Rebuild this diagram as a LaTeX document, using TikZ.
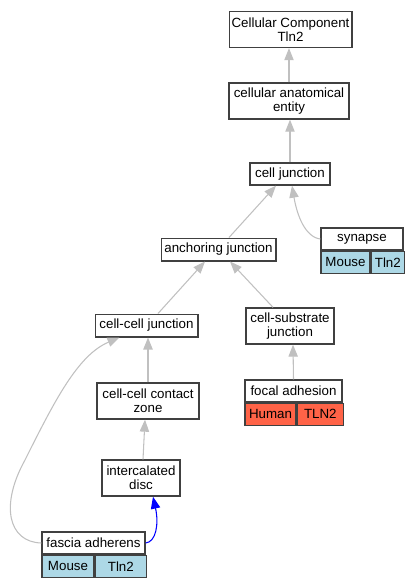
\documentclass[tikz,border=0pt]{standalone}
\usepackage{fontspec}
\setmainfont{Liberation Sans}
\usepackage{xcolor}
\usetikzlibrary{arrows.meta,calc}
\definecolor{frame}{RGB}{64,64,64}
\definecolor{edgegray}{RGB}{192,192,192}
\definecolor{mouseblue}{RGB}{173,216,230}
\definecolor{humanred}{RGB}{255,99,71}
\tikzset{
  term/.style={draw=frame, line width=1pt, fill=white, inner sep=0pt, align=center,
    minimum height=17pt, font=\fontsize{10}{10.5}\selectfont},
  tall/.style={term, minimum height=27pt},
  cell/.style={term, minimum height=16.5pt, anchor=north west},
  isa/.style={edgegray, line width=0.8pt, -{Triangle[length=9pt,width=7pt]}},
  partof/.style={isa, blue}
}

\begin{document}
\begin{tikzpicture}[x=0.75pt,y=-0.75pt]
\useasboundingbox (0,0) rectangle (420,587);
\node[tall, minimum width=92pt] (cc) at (290.5,29.5) {Cellular Component\\Tln2};
\node[tall, minimum width=90pt] (cae) at (289,101) {cellular anatomical\\entity};
\node[term, minimum width=60pt, minimum height=16.5pt] (cj) at (290,174) {cell junction};
\node[term, minimum width=86pt] (aj) at (218.5,249.5) {anchoring junction};
\node[term, minimum width=77pt] (ccj) at (146.5,325.5) {cell-cell junction};
\node[tall, minimum width=66pt] (csj) at (290,326) {cell-substrate\\junction};
\node[tall, minimum width=76.5pt] (cccz) at (148,401) {cell-cell contact\\zone};
\node[tall, minimum width=58.5pt] (idisc) at (141,478) {intercalated\\disc};
% annotated terms
\node[term, minimum width=61.5pt, minimum height=16.5pt] (syn) at (362,239) {synapse};
\node[cell, fill=mouseblue, minimum width=36.75pt] (synOrg) at (syn.south west) {Mouse};
\node[cell, fill=mouseblue, minimum width=24.75pt] (synGene) at (synOrg.north east) {Tln2};
\node[term, minimum width=72.75pt, minimum height=16.5pt] (fa) at (293.5,391) {focal adhesion};
\node[cell, fill=humanred, minimum width=38.25pt] (faOrg) at (fa.south west) {Human};
\node[cell, fill=humanred, minimum width=34.5pt] (faGene) at (faOrg.north east) {TLN2};
\node[term, minimum width=77.25pt, minimum height=16.5pt] (fasc) at (93.5,543) {fascia adherens};
\node[cell, fill=mouseblue, minimum width=39pt] (fascOrg) at (fasc.south west) {Mouse};
\node[cell, fill=mouseblue, minimum width=38.25pt] (fascGene) at (fascOrg.north east) {Tln2};
% is_a edges
\draw[isa] (cae.north) -- (cae.north |- cc.south);
\draw[isa] (cj.north) -- (cj.north |- cae.south);
\draw[isa] ($(aj.north)+(10.5,0)$) -- ($(cj.south)+(-14,0)$);
\draw[isa] (syn.west) .. controls (305,237) and (297,215) .. ($(cj.south)+(2,0)$);
\draw[isa] ($(ccj.north)+(11.5,0)$) -- ($(aj.south)+(-13.5,0)$);
\draw[isa] ($(csj.north)+(-17,0)$) -- ($(aj.south)+(11.5,0)$);
\draw[isa] (fa.north) -- ($(csj.south)+(3,0)$);
\draw[isa] (cccz.north) -- (cccz.north |- ccj.south);
\draw[isa] ($(idisc.north)+(2,0)$) -- ($(cccz.south)+(-3,0)$);
\draw[isa] (fasc.west) .. controls (8,542) and (0,505) .. (25,460)
  .. controls (55,400) and (78,355) .. ($(ccj.south)+(-27,0)$);
% part_of edge
\draw[partof] (fasc.east) .. controls (156,542) and (159,524) .. ($(idisc.south)+(12,0)$);
\end{tikzpicture}
\end{document}
